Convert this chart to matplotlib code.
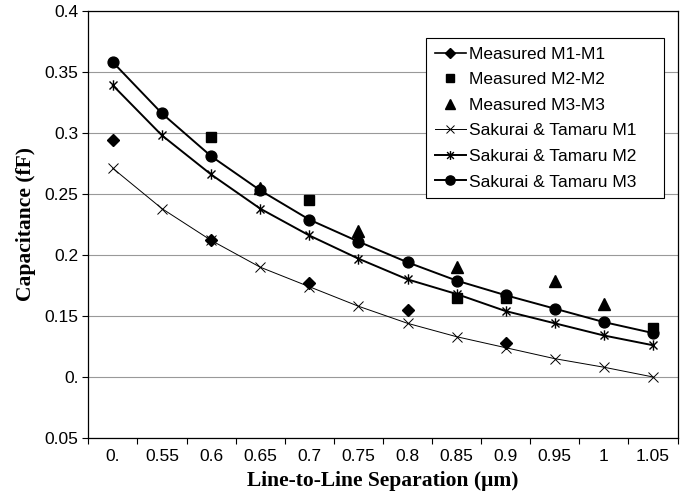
import matplotlib
matplotlib.use('Agg')
import matplotlib.pyplot as plt
import numpy as np
from matplotlib.path import Path

nan = np.nan

# line-to-line separation (um), labels as printed on the chart
separation = [0.5, 0.55, 0.6, 0.65, 0.7, 0.75, 0.8, 0.85, 0.9, 0.95, 1.0, 1.05]
sep_labels = ['0.', '0.55', '0.6', '0.65', '0.7', '0.75', '0.8', '0.85', '0.9', '0.95', '1', '1.05']

measured_m1 = [0.294, nan, 0.212, nan, 0.177, nan, 0.155, nan, 0.128, nan, nan, nan]
measured_m2 = [nan, nan, 0.297, nan, 0.245, nan, nan, 0.165, 0.165, nan, nan, 0.140]
measured_m3 = [nan, nan, nan, 0.255, nan, 0.220, nan, 0.190, nan, 0.179, 0.160, nan]

sakurai_m1 = [0.271, 0.238, 0.212, 0.190, 0.174, 0.158, 0.144, 0.133, 0.124, 0.115, 0.108, 0.100]
sakurai_m2 = [0.339, 0.298, 0.266, 0.238, 0.216, 0.197, 0.180, 0.168, 0.154, 0.144, 0.134, 0.126]
sakurai_m3 = [0.358, 0.316, 0.281, 0.253, 0.229, 0.211, 0.194, 0.179, 0.167, 0.156, 0.145, 0.136]

cap_ticks = [0.05, 0.1, 0.15, 0.2, 0.25, 0.3, 0.35, 0.4]
cap_labels = ['0.05', '0.', '0.15', '0.2', '0.25', '0.3', '0.35', '0.4']

# Excel style asterisk: an X with a vertical bar
asterisk = Path([(-1, -1), (1, 1), (-1, 1), (1, -1), (0, -1.3), (0, 1.3)],
                [Path.MOVETO, Path.LINETO, Path.MOVETO, Path.LINETO, Path.MOVETO, Path.LINETO])

plt.rcParams['font.family'] = 'Liberation Sans'

fig = plt.figure(figsize=(6.9, 4.95), dpi=100)
ax = fig.add_axes([0.128, 0.1152, 0.854, 0.8626])

pos = np.arange(len(separation))

ax.plot(pos, measured_m1, color='black', lw=1.2, marker='D', ms=6.5, label='Measured M1-M1')
ax.plot(pos, measured_m2, color='black', ls='none', marker='s', ms=6.5, label='Measured M2-M2')
ax.plot(pos, measured_m3, color='black', ls='none', marker='^', ms=8, label='Measured M3-M3')
ax.plot(pos, sakurai_m1, color='black', lw=0.7, marker='x', ms=7.5, mew=0.7, label='Sakurai & Tamaru M1')
ax.plot(pos, sakurai_m2, color='black', lw=1.4, marker=asterisk, ms=7.5, mew=1.0, label='Sakurai & Tamaru M2')
ax.plot(pos, sakurai_m3, color='black', lw=1.4, marker='o', ms=7.8, label='Sakurai & Tamaru M3')

ax.set_xlim(-0.5, len(separation) - 0.5)
ax.set_xticks(pos)
ax.set_xticklabels(sep_labels)
ax.set_xticks(np.arange(len(separation) + 1) - 0.5, minor=True)
ax.tick_params(axis='x', which='major', length=0, pad=8, labelsize=12.5)
ax.tick_params(axis='x', which='minor', length=4, direction='out', width=0.8)

ax.set_ylim(0.05, 0.4)
ax.set_yticks(cap_ticks)
ax.set_yticklabels(cap_labels)
ax.tick_params(axis='y', length=4, direction='out', width=0.8, pad=3, labelsize=12.5)

ax.yaxis.grid(True, color='#999999', lw=0.8)
ax.set_axisbelow(True)
for s in ax.spines.values():
    s.set_color('black')
    s.set_linewidth(0.9)

ax.set_xlabel('Line-to-Line Separation (\u03bcm)', family='Liberation Serif',
              fontweight='bold', fontsize=15.5, labelpad=5)
ax.set_ylabel('Capacitance (fF)', family='Liberation Serif', fontweight='bold',
              fontsize=15.5, labelpad=6)

leg = ax.legend(loc='upper left', bbox_to_anchor=(0.573, 0.562, 0.404, 0.375),
                mode='expand', fontsize=12.5, markerscale=0.85,
                frameon=True, fancybox=False, edgecolor='black', framealpha=1,
                handlelength=1.8, handletextpad=0.15, labelspacing=0.6,
                borderpad=0.5, borderaxespad=0)
leg.get_frame().set_linewidth(0.8)

plt.savefig('out.png', dpi=100)
